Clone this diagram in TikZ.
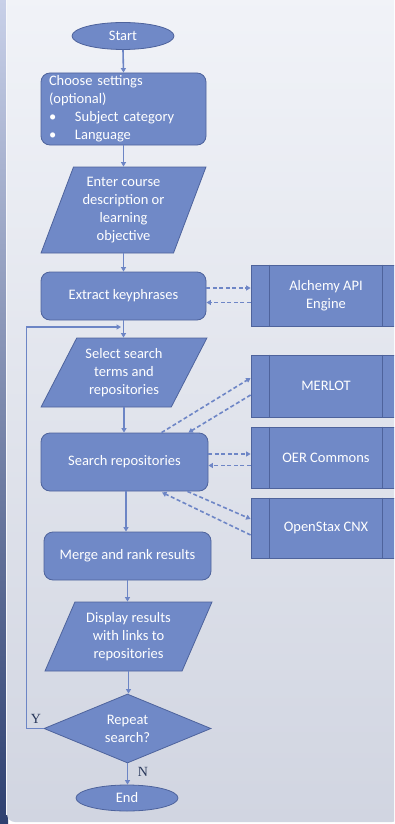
\documentclass[tikz,border=0pt]{standalone}
\usepackage{fontspec}
\setmainfont{Carlito}
\newfontfamily\serifY{Liberation Serif}
\usetikzlibrary{shapes.geometric,arrows.meta,calc}
\definecolor{boxfill}{RGB}{112,137,199}
\definecolor{boxline}{RGB}{78,99,156}
\definecolor{conn}{RGB}{108,133,197}
\definecolor{dconn}{RGB}{110,134,198}
\definecolor{lbl}{RGB}{40,55,90}
\definecolor{stripT}{RGB}{200,208,232}
\definecolor{stripB}{RGB}{46,64,112}
\definecolor{panelT}{RGB}{241,243,248}
\definecolor{panelB}{RGB}{209,213,225}
\tikzset{
  base/.style={draw=boxline, fill=boxfill, line width=0.8pt, text=white, inner sep=0pt,
    font=\fontsize{14.5}{18}\selectfont, align=center},
  term/.style={base, ellipse},
  proc/.style={base, rectangle, rounded corners=9pt},
  io/.style={base, trapezium, trapezium stretches=true},
  pre/.style={base, rectangle, minimum width=150, minimum height=61},
  dec/.style={base, diamond},
  flow/.style={draw=conn, line width=1.6pt, -{Triangle[length=4.5pt,width=5pt]}},
  dflow/.style={draw=dconn, line width=1.6pt, dash pattern=on 4pt off 2.5pt, -{Triangle[length=4.5pt,width=5pt]}},
  yn/.style={text=lbl, font=\serifY\fontsize{14}{16}\selectfont, inner sep=0pt}
}
\newcommand{\preLines}[1]{%
  \draw[boxline, line width=0.8pt] ([xshift=19pt]#1.north west) -- ([xshift=19pt]#1.south west);
  \draw[boxline, line width=0.8pt] ([xshift=-19pt]#1.north east) -- ([xshift=-19pt]#1.south east);}
\begin{document}
\begin{tikzpicture}[x=1pt,y=-1pt]
\useasboundingbox (0,0) rectangle (394,824);
\clip (0,0) rectangle (394,824);
% background
\shade[top color=stripT, bottom color=stripB] (0pt,0pt) rectangle (8pt,-824pt);
\shade[top color=panelT, bottom color=panelB, rounded corners=8pt]
  (7pt,8pt) -- (7pt,-822pt) -- (400pt,-822pt) -- (400pt,8pt) -- cycle;
\draw[white!85!stripT, line width=0.6pt] (6.5pt,0pt) -- (6.5pt,-815pt);

% nodes
\node[term, minimum width=102, minimum height=27] (start) at (123,36) {Start};
\node[proc, minimum width=165, minimum height=72, text width=149, align=left] (choose) at (123.5,109)
  {Choose settings\\(optional)\\\makebox[26pt][l]{\textbullet}Subject category\\\makebox[26pt][l]{\textbullet}Language};
\node[io, trapezium left angle=68, trapezium right angle=112, minimum width=165, minimum height=86] (enter) at (123.5,210)
  {Enter course\\description or\\learning\\objective};
\node[proc, minimum width=165, minimum height=48] (extract) at (123.5,296) {Extract keyphrases};
\node[pre] (alch) at (326,295.5) {Alchemy API\\Engine};
\node[io, trapezium left angle=59, trapezium right angle=121, minimum width=166, minimum height=69] (select) at (124,372.5)
  {Select search\\terms and\\repositories};
\node[pre, minimum height=62] (merlot) at (326,386) {MERLOT};
\node[proc, minimum width=167, minimum height=58] (search) at (124.5,462) {Search repositories};
\node[pre] (oer) at (326,457.5) {OER Commons};
\node[pre, minimum height=60] (cnx) at (326,528) {OpenStax CNX};
\node[proc, minimum width=167, minimum height=48] (merge) at (127.5,556) {Merge and rank results};
\node[io, trapezium left angle=64, trapezium right angle=116, minimum width=167, minimum height=69] (display) at (128.5,636.5)
  {Display results\\with links to\\repositories};
\node[dec, minimum width=167, minimum height=69, aspect=2.4] (rep) at (127.5,728.5) {Repeat\\search?};
\node[term, minimum width=102, minimum height=26] (end) at (127,798) {End};
\preLines{alch}
\preLines{merlot}
\preLines{oer}
\preLines{cnx}

\node[yn] (ylab) at (36,719) {Y};
\node[yn] (nlab) at (143,772) {N};

% main flow
\draw[flow] (start.south) -- (choose.north);
\draw[flow] (choose.south) -- (choose.south |- enter.north);
\draw[flow] (enter.south) -- (enter.south |- extract.north);
\draw[flow] (extract.south) -- (extract.south |- select.north);
\draw[flow] (select.south) -- (select.south |- search.north);
\draw[flow] ([xshift=1.5pt]search.south) -- ([xshift=1.5pt]search.south |- merge.north);
\draw[flow] (merge.south) -- (merge.south |- display.north);
\draw[flow] (display.south) -- (display.south |- rep.north);
\draw[flow] (rep.south) -- (rep.south |- end.north);
\coordinate (loopin) at (121,327);
\draw[flow] (rep.west) -- ++(-17,0) |- (loopin);

% dashed exchanges
\draw[dflow] ([yshift=8pt]extract.east) -- ([yshift=8pt]extract.east -| alch.west);
\draw[dflow] ([yshift=-7pt]alch.west) -- ([yshift=-7pt]alch.west -| extract.east);
\draw[dflow] ([xshift=37pt]search.north) -- ([yshift=8pt]merlot.west);
\draw[dflow] ([yshift=-9pt]merlot.west) -- ([xshift=-20pt]search.north east);
\draw[dflow] ([yshift=8pt]search.east) -- ([yshift=8pt]search.east -| oer.west);
\draw[dflow] ([yshift=-8pt]oer.west) -- ([yshift=-8pt]oer.west -| search.east);
\draw[dflow] ([xshift=-21pt]search.south east) -- ([yshift=9pt]cnx.west);
\draw[dflow] ([yshift=-7pt]cnx.west) -- ([xshift=37.5pt,yshift=-1pt]search.south);
\end{tikzpicture}
\end{document}
